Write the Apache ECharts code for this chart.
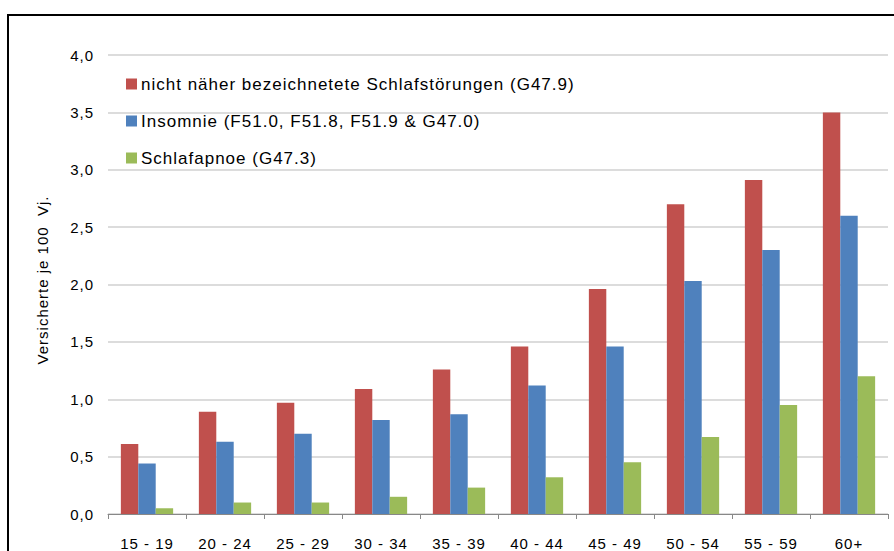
<!DOCTYPE html>
<html>
<head>
<meta charset="utf-8">
<script src="https://cdn.jsdelivr.net/npm/echarts@6/dist/echarts.min.js"></script>
<style>
html,body{margin:0;padding:0;background:#fff;overflow:hidden;}
#frame{position:absolute;left:7px;top:14px;width:1000px;height:1000px;border-top:2px solid #000;border-left:2px solid #000;box-sizing:border-box;}
#chart{position:absolute;left:0;top:0;width:894px;height:551px;}
#chart text{letter-spacing:1px;}
</style>
</head>
<body>
<div id="frame"></div>
<div id="chart"></div>
<script>
const categories = ['15 - 19','20 - 24','25 - 29','30 - 34','35 - 39','40 - 44','45 - 49','50 - 54','55 - 59','60+'];
const seriesNames = [
  'nicht näher bezeichnetete Schlafstörungen (G47.9)',
  'Insomnie (F51.0, F51.8, F51.9 & G47.0)',
  'Schlafapnoe (G47.3)'
];
const unspecified = [0.61, 0.89, 0.97, 1.09, 1.26, 1.46, 1.96, 2.70, 2.91, 3.50];
const insomnia    = [0.44, 0.63, 0.70, 0.82, 0.87, 1.12, 1.46, 2.03, 2.30, 2.60];
const apnea       = [0.05, 0.10, 0.10, 0.15, 0.23, 0.32, 0.45, 0.67, 0.95, 1.20];
const yAxisName = 'Versicherte je 100  Vj.';
const colors = ['#C0504D', '#4F81BD', '#9BBB59'];

const chart = echarts.init(document.getElementById('chart'), null, {renderer: 'svg'});
const font = 'Liberation Sans, Arial, sans-serif';
const mk = (name, data, color) => ({
  name, type: 'bar', data,
  barGap: '0%', barCategoryGap: '33%',
  itemStyle: {color},
  emphasis: {disabled: true}
});
chart.setOption({
  animation: false,
  textStyle: {fontFamily: font},
  grid: {left: 108, right: 6, top: 55, bottom: 33, containLabel: false},
  legend: {
    orient: 'vertical', left: 121, top: 70,
    itemWidth: 11, itemHeight: 11, itemGap: 19,
    icon: 'rect',
    textStyle: {fontSize: 17, color: '#000', fontFamily: font, lineHeight: 18, padding: [0,0,0,-1]},
    data: seriesNames
  },
  xAxis: {
    type: 'category', data: categories,
    axisLine: {show: true, lineStyle: {color: '#888', width: 1}},
    axisTick: {show: true, length: 5, alignWithLabel: false, lineStyle: {color: '#888'}},
    axisLabel: {fontSize: 15, color: '#000', margin: 22, fontFamily: font}
  },
  yAxis: {
    type: 'value', min: 0, max: 4, interval: 0.5,
    name: yAxisName, nameLocation: 'middle', nameGap: 58, nameRotate: 90,
    nameTextStyle: {fontSize: 15, color: '#000', fontFamily: font, padding: [0, 0, 0, 9]},
    axisLine: {show: false},
    axisTick: {show: false},
    splitLine: {lineStyle: {color: '#D0D0D0', width: 1.5}},
    axisLabel: {fontSize: 15, color: '#000', margin: 14, fontFamily: font,
      formatter: v => v.toFixed(1).replace('.', ',')}
  },
  series: [
    mk(seriesNames[0], unspecified, colors[0]),
    mk(seriesNames[1], insomnia, colors[1]),
    mk(seriesNames[2], apnea, colors[2])
  ]
});
</script>
</body>
</html>
